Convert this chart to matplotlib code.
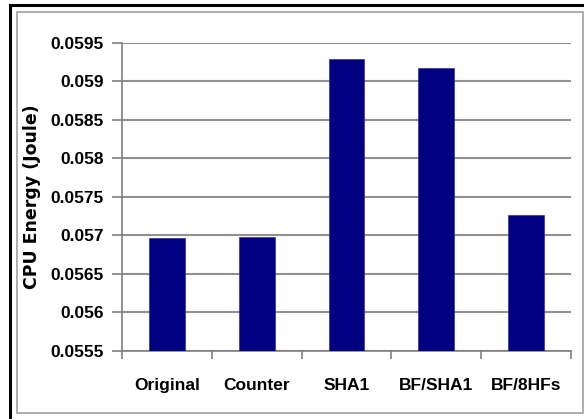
import matplotlib
matplotlib.use("Agg")
import matplotlib.pyplot as plt
from matplotlib.patches import Rectangle

categories = ["Original", "Counter", "SHA1", "BF/SHA1", "BF/8HFs"]
values = [0.05696, 0.05698, 0.05929, 0.05917, 0.05726]
yticks = [0.0555, 0.056, 0.0565, 0.057, 0.0575, 0.058, 0.0585, 0.059, 0.0595]
ytick_labels = ["0.0555", "0.056", "0.0565", "0.057", "0.0575", "0.058", "0.0585", "0.059", "0.0595"]

plt.rcParams['font.family'] = ['Liberation Sans', 'DejaVu Sans']

W, H = 584, 419
fig = plt.figure(figsize=(W / 100, H / 100), dpi=100)
fig.patch.set_facecolor("white")

# outer black frame (top and left visible) and inner gray frame
fig.add_artist(Rectangle((10 / W, -0.05), 1.2, (H - 5) / H + 0.05, transform=fig.transFigure,
                         fill=False, edgecolor="black", linewidth=2.2))
fig.add_artist(Rectangle((17 / W, 1 - 413 / H), (583 - 17) / W, (413 - 12) / H,
                         transform=fig.transFigure, fill=False, edgecolor="#a0a0a0", linewidth=1.2))

left, right, top, bottom = 122, 571, 42.7, 350.7
ax = fig.add_axes([left / W, 1 - bottom / H, (right - left) / W, (bottom - top) / H])

x = list(range(len(categories)))
ax.bar(x, values, width=0.4, color="#000080", edgecolor="#3030a0", linewidth=0.5, zorder=3)

ax.set_xlim(-0.5, len(categories) - 0.5)
ax.set_ylim(0.0555, 0.0595)
ax.set_yticks(yticks)
ax.set_yticklabels(ytick_labels, fontsize=12.5, fontweight="bold")
ax.yaxis.grid(True, color="#909090", linewidth=1.5, zorder=0)
ax.set_axisbelow(True)

ax.set_xticks([i - 0.5 for i in range(len(categories) + 1)])
ax.set_xticklabels([])
ax.set_xticks(x, minor=True)
ax.set_xticklabels(categories, minor=True, fontsize=12.5, fontweight="bold")
ax.tick_params(axis="x", which="minor", length=0, pad=20)
ax.tick_params(axis="x", which="major", length=6, color="#808080", width=1.2)
ax.tick_params(axis="y", length=7, color="#808080", width=1.2, pad=6)

for s in ["top", "right"]:
    ax.spines[s].set_visible(False)
for s in ["left", "bottom"]:
    ax.spines[s].set_color("#808080")
    ax.spines[s].set_linewidth(1.2)

ax.set_ylabel("CPU Energy (Joule)", fontsize=12.5, fontweight="bold", labelpad=7,
              family=["DejaVu Sans"])

fig.savefig("out.png", dpi=100, facecolor="white")
